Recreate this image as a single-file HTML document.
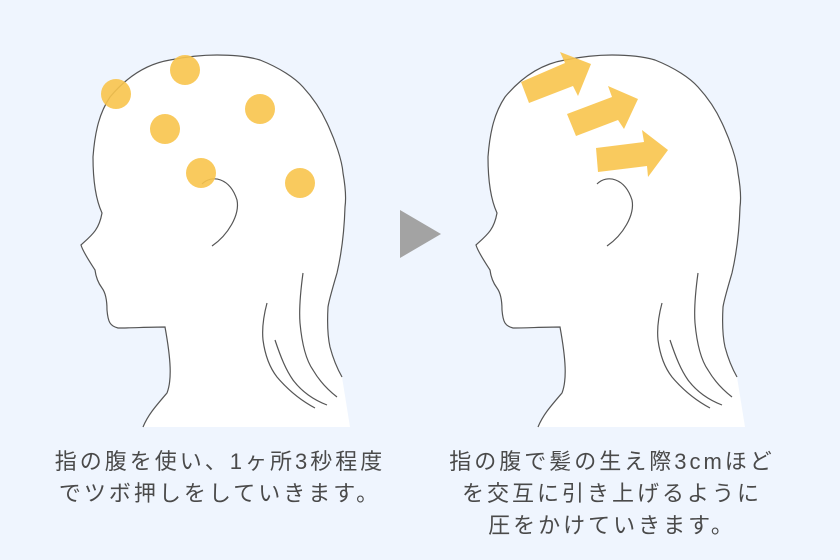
<!DOCTYPE html>
<html><head><meta charset="utf-8"><style>
body{margin:0;width:840px;height:560px;background:#eff5fe;overflow:hidden;position:relative}
.t{position:absolute;font-family:"Liberation Sans","Noto Sans CJK JP",sans-serif;font-size:22px;letter-spacing:3px;color:#4a4a4a;text-align:center;line-height:32px;white-space:nowrap}
</style></head><body>
<svg width="840" height="560" style="position:absolute;left:0;top:0">
<defs>
<g id="head">
<path d="M143,427 C148,415 155,407 167,393 C172,380 171,360 165,327 C150,327 130,328 118,328 C110,326 108,322 107,310 C107,300 105,292 102,288 C99,284 96,278 95,270 C90,262 83,252 81,245 C92,235 99,230 102,213 C96,200 93,180 93,157 C95,130 100,112 110,97 C120,85 140,65 170,60 C190,56 205,55 217,55 C235,55 250,57 260,60 C280,68 295,78 303,87 C315,100 322,112 327,123 C335,140 342,160 343,173 C346,190 346,200 345,207 C344,240 340,260 337,273 C332,290 329,300 328,307 C327,325 328,338 330,347 C334,362 338,370 342,377 L350,427 Z" fill="#fff"/>
<path d="M143,427 C148,415 155,407 167,393 C172,380 171,360 165,327 C150,327 130,328 118,328 C110,326 108,322 107,310 C107,300 105,292 102,288 C99,284 96,278 95,270 C90,262 83,252 81,245 C92,235 99,230 102,213 C96,200 93,180 93,157 C95,130 100,112 110,97 C120,85 140,65 170,60 C190,56 205,55 217,55 C235,55 250,57 260,60 C280,68 295,78 303,87 C315,100 322,112 327,123 C335,140 342,160 343,173 C346,190 346,200 345,207 C344,240 340,260 337,273 C332,290 329,300 328,307 C327,325 328,338 330,347 C334,362 338,370 342,377" fill="none" stroke="#555" stroke-width="1.2"/>
<path d="M202,184 C212,174 230,178 237,200 C240,215 228,235 212,246" fill="none" stroke="#555" stroke-width="1.2"/>
<path d="M303,273 C300,295 299,310 300,323 C302,345 306,360 313,370 C320,382 328,390 337,397" fill="none" stroke="#555" stroke-width="1.2"/>
<path d="M267,303 C263,318 262,330 263,340 C265,355 270,368 277,377 C288,390 300,400 315,408" fill="none" stroke="#555" stroke-width="1.2"/>
<path d="M275,340 C281,358 286,370 293,380 C302,392 314,400 327,405" fill="none" stroke="#555" stroke-width="1.2"/>
</g>
</defs>
<use href="#head"/>
<use href="#head" transform="translate(395,0)"/>
<g fill="#f8c44c" fill-opacity="0.9">
<circle cx="116" cy="94" r="15"/><circle cx="185" cy="70" r="15"/><circle cx="260" cy="109" r="15"/>
<circle cx="165" cy="129" r="15"/><circle cx="201" cy="173" r="15"/><circle cx="300" cy="183" r="15"/>
<polygon points="521,82 529,103 573,86 578,96 591,64 560,52 565,63"/>
<polygon points="567,114 576,136 618,120 624,129 638,99 608,86 612,97"/>
<polygon points="596,148 598,172 647,166 648,177 668,150 642,130 644,142"/>
</g>
<polygon points="400,210 400,258 441,234" fill="#a3a3a3"/>
</svg>
<div class="t" style="left:0;width:440px;top:446px">指の腹を使い、1ヶ所3秒程度<br>でツボ押しをしていきます。</div>
<div class="t" style="left:392px;width:440px;top:446px">指の腹で髪の生え際3cmほど<br>を交互に引き上げるように<br>圧をかけていきます。</div>
</body></html>
